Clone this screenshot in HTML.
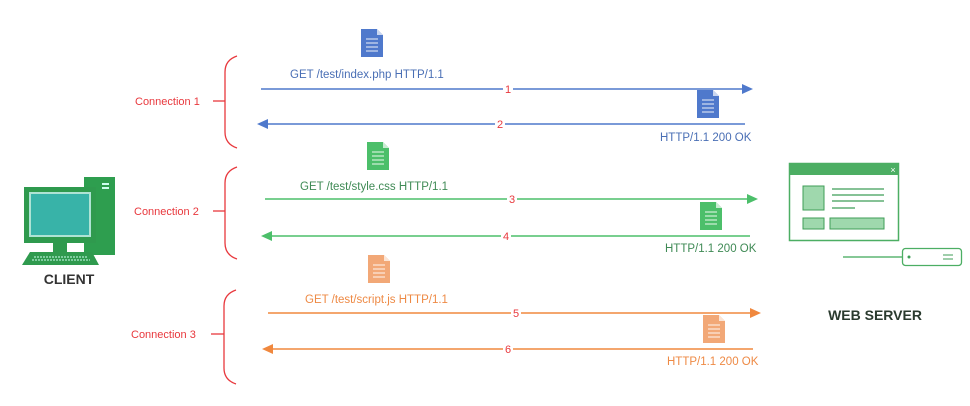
<!DOCTYPE html>
<html><head><meta charset="utf-8"><style>
html,body{margin:0;padding:0;background:#fff;width:970px;height:406px;overflow:hidden}
svg text{font-family:"Liberation Sans",sans-serif}
</style></head><body>
<svg width="970" height="406" viewBox="0 0 970 406" xmlns="http://www.w3.org/2000/svg">
<defs>
<g id="doc"><path d="M0,0 H16 L22,6 V28 H0 Z" /><path d="M16,0 V6 H22" fill="#fff" opacity="0.7"/>
<g stroke="#fff" stroke-width="1.2" opacity="0.75"><line x1="5" y1="10" x2="17" y2="10"/><line x1="5" y1="14" x2="17" y2="14"/><line x1="5" y1="18" x2="17" y2="18"/><line x1="5" y1="22" x2="17" y2="22"/></g></g>
</defs>
<g fill="none" stroke="#e8383d" stroke-width="1.3">
<path d="M237,56 Q225,60 225,72 V132 Q225,144 237,148"/><line x1="213" y1="101" x2="225" y2="101"/>
<path d="M237,167 Q225,171 225,183 V243 Q225,255 237,259"/><line x1="213" y1="211" x2="225" y2="211"/>
<path d="M236,290 Q224,294 224,306 V368 Q224,380 236,384"/><line x1="211" y1="334" x2="224" y2="334"/>
</g>
<g font-size="11" fill="#e8383d">
<text x="135" y="105">Connection 1</text>
<text x="134" y="215">Connection 2</text>
<text x="131" y="338">Connection 3</text>
</g>
<g fill="#4f79cc"><use href="#doc" x="361" y="29"/><use href="#doc" x="697" y="90"/></g>
<g stroke="#4f79cc" stroke-width="1.5"><line x1="261" y1="89" x2="742" y2="89"/><line x1="268" y1="124" x2="745" y2="124"/></g>
<path d="M742,84 L753,89 L742,94Z M268,119 L257,124 L268,129Z" fill="#4f79cc"/>
<g font-size="11.5" fill="#4a6fb5"><text x="290" y="78">GET /test/index.php HTTP/1.1</text><text x="660" y="141">HTTP/1.1 200 OK</text></g>
<g fill="#4cbf6a"><use href="#doc" x="367" y="142"/><use href="#doc" x="700" y="202"/></g>
<g stroke="#4cbf6a" stroke-width="1.5"><line x1="265" y1="199" x2="747" y2="199"/><line x1="272" y1="236" x2="750" y2="236"/></g>
<path d="M747,194 L758,199 L747,204Z M272,231 L261,236 L272,241Z" fill="#4cbf6a"/>
<g font-size="11.5" fill="#3f8a55"><text x="300" y="190">GET /test/style.css HTTP/1.1</text><text x="665" y="252">HTTP/1.1 200 OK</text></g>
<g fill="#f2a877"><use href="#doc" x="368" y="255"/><use href="#doc" x="703" y="315"/></g>
<g stroke="#f0883e" stroke-width="1.5"><line x1="268" y1="313" x2="750" y2="313"/><line x1="273" y1="349" x2="753" y2="349"/></g>
<path d="M750,308 L761,313 L750,318Z M273,344 L262,349 L273,354Z" fill="#f0883e"/>
<g font-size="11.5" fill="#ee8a45"><text x="305" y="303">GET /test/script.js HTTP/1.1</text><text x="667" y="365">HTTP/1.1 200 OK</text></g>
<g font-size="11" fill="#e8383d" text-anchor="middle">
<rect x="503" y="83" width="10" height="12" fill="#fff"/><text x="508" y="93">1</text>
<rect x="495" y="118" width="10" height="12" fill="#fff"/><text x="500" y="128">2</text>
<rect x="507" y="193" width="10" height="12" fill="#fff"/><text x="512" y="203">3</text>
<rect x="501" y="230" width="10" height="12" fill="#fff"/><text x="506" y="240">4</text>
<rect x="511" y="307" width="10" height="12" fill="#fff"/><text x="516" y="317">5</text>
<rect x="503" y="343" width="10" height="12" fill="#fff"/><text x="508" y="353">6</text>
</g>
<rect x="84" y="177" width="31" height="78" fill="#2e9e4f"/>
<rect x="102" y="183" width="7" height="2" fill="#cfe"/><rect x="102" y="187" width="7" height="2" fill="#cfe"/>
<rect x="24" y="187" width="72" height="56" fill="#2f9a4e"/>
<rect x="29" y="192" width="62" height="45" fill="#aee3d4"/>
<rect x="31" y="194" width="58" height="41" fill="#38b3a8"/>
<rect x="53" y="243" width="14" height="9" fill="#2f9a4e"/>
<path d="M30,252 H92 L99,265 H22 Z" fill="#2f9a4e"/>
<g stroke="#cfe" stroke-width="1"><line x1="34" y1="257" x2="88" y2="257" stroke-dasharray="2,1"/><line x1="32" y1="260" x2="90" y2="260" stroke-dasharray="2,1"/></g>
<text x="69" y="284" font-size="14" font-weight="bold" fill="#333" text-anchor="middle">CLIENT</text>
<rect x="789.5" y="163.5" width="109" height="77" fill="#fff" stroke="#4cae63" stroke-width="1.5"/>
<rect x="789" y="163" width="110" height="12" fill="#4cae63"/>
<text x="893" y="173" font-size="9" fill="#fff" text-anchor="middle">×</text>
<rect x="803" y="186" width="21" height="24" fill="#9fd8ad" stroke="#3f9e57"/>
<g stroke="#3f9e57" stroke-width="1.2"><line x1="832" y1="189" x2="884" y2="189"/><line x1="832" y1="195" x2="884" y2="195"/><line x1="832" y1="201" x2="884" y2="201"/><line x1="832" y1="208" x2="855" y2="208"/></g>
<rect x="803" y="218" width="21" height="11" fill="#9fd8ad" stroke="#3f9e57"/>
<rect x="830" y="218" width="54" height="11" fill="#9fd8ad" stroke="#3f9e57"/>
<line x1="843" y1="257" x2="902" y2="257" stroke="#5fb673" stroke-width="1.5"/>
<rect x="902.5" y="248.5" width="59" height="17" rx="3" fill="#fff" stroke="#4cae63" stroke-width="1.3"/>
<circle cx="909" cy="257" r="1.5" fill="#3f9e57"/>
<g stroke="#3f9e57"><line x1="943" y1="255" x2="953" y2="255"/><line x1="943" y1="259" x2="953" y2="259"/></g>
<text x="875" y="320" font-size="14" font-weight="bold" fill="#2a3a2e" text-anchor="middle">WEB SERVER</text>
</svg>
</body></html>
